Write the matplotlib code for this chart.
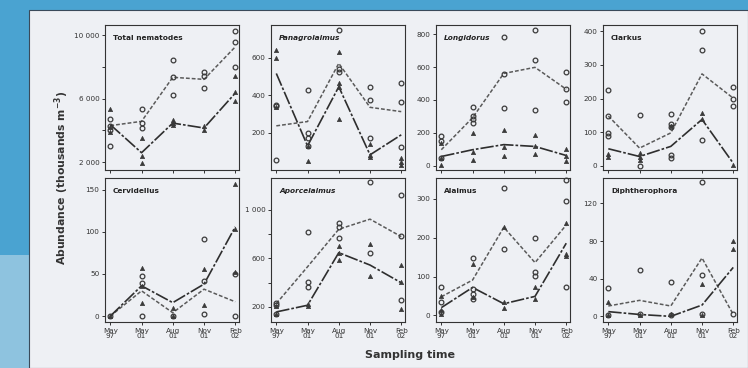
import matplotlib
matplotlib.use("Agg")
import matplotlib.pyplot as plt
from matplotlib.patches import Rectangle
from matplotlib.ticker import FixedLocator, FuncFormatter

plt.rcParams['font.family'] = ['DejaVu Sans']

# ---------------- data ----------------
times = ["May\n97", "May\n01", "Aug\n01", "Nov\n01", "Feb\n02"]

titles = ["Total nematodes", "Panagrolaimus", "Longidorus", "Clarkus",
          "Cervidellus", "Aporcelaimus", "Alaimus", "Diphtherophora"]
italic_titles = ["Panagrolaimus", "Longidorus", "Aporcelaimus"]

# open circles (per sampling time)
total_circ = [[4700, 4300, 4000, 3000], [5350, 4450, 4150], [8450, 7350, 6250], [7700, 7430, 6650], [10300, 9580, 8000]]
total_tri = [[5350, 4200, 3900], [3500, 2380, 1920], [4670, 4460, 4360], [4250, 4050], [7430, 6400, 5880]]
total_line_c = [4300, 4570, 7350, 7220, 9270]
total_line_t = [4360, 2590, 4460, 4150, 6350]

pana_circ = [[350, 340, 55], [430, 200, 170, 130], [750, 540, 525], [445, 375, 170], [465, 365, 125]]
pana_tri = [[640, 600, 335], [130, 50], [630, 465, 445, 275], [140, 80, 72], [63, 45, 28]]
pana_line_c = [236, 259, 570, 335, 312]
pana_line_t = [516, 129, 445, 81, 188]

long_circ = [[180, 150, 50], [355, 300, 282, 262], [780, 560, 350], [822, 640, 337], [570, 465, 385]]
long_tri = [[140, 45, 5], [200, 84, 37], [220, 114, 61], [190, 118, 73], [102, 57, 27]]
long_line_c = [98, 292, 561, 598, 465]
long_line_t = [57, 98, 129, 118, 63]

clar_circ = [[225, 148, 98, 88], [151, 1], [153, 123, 115, 33, 23], [401, 345, 78], [235, 200, 178]]
clar_tri = [[35, 28], [38, 28, 18], [118], [158, 138], [3]]
clar_line_c = [148, 53, 98, 273, 201]
clar_line_t = [51, 28, 58, 138, 8]

cerv_circ = [[0], [48, 39, 0], [0], [92, 42, 2], [50, 0]]
cerv_tri = [[0], [57, 36, 16], [10, 0], [56, 13], [157, 104, 52]]
cerv_line_c = [0, 30, 4, 32, 17]
cerv_line_t = [0, 36, 16, 38, 106]

apor_circ = [[233, 214, 139], [821, 407, 366], [890, 857, 766], [1226, 647], [1124, 788, 255]]
apor_tri = [[206, 145], [228, 206], [702, 647, 586], [719, 454], [545, 407, 186]]
apor_line_c = [228, 531, 840, 923, 779]
apor_line_t = [159, 214, 647, 545, 399]

alai_circ = [[72, 35, 9], [147, 69, 56, 43], [327, 171], [199, 112, 101], [348, 294, 73]]
alai_tri = [[49, 15, 3], [132, 48], [227, 35, 20], [72, 43], [239, 158, 153]]
alai_line_c = [48, 91, 227, 136, 233]
alai_line_t = [20, 72, 30, 49, 186]

diph_circ = [[30, 1], [49, 2], [36, 1], [143, 44, 2], [2]]
diph_tri = [[15, 1], [1], [2], [34, 1], [80, 72]]
diph_line_c = [11, 17, 11, 62, 2]
diph_line_t = [5, 2, 0, 12, 52]

circles = [total_circ, pana_circ, long_circ, clar_circ, cerv_circ, apor_circ, alai_circ, diph_circ]
triangles = [total_tri, pana_tri, long_tri, clar_tri, cerv_tri, apor_tri, alai_tri, diph_tri]
lines_c = [total_line_c, pana_line_c, long_line_c, clar_line_c, cerv_line_c, apor_line_c, alai_line_c, diph_line_c]
lines_t = [total_line_t, pana_line_t, long_line_t, clar_line_t, cerv_line_t, apor_line_t, alai_line_t, diph_line_t]

ylims = [(1500, 10650), (0, 775), (-25, 855), (-12, 418),
         (-7, 164), (76, 1262), (-17, 354), (-6, 147)]
major_ticks = [[2000, 6000, 10000], [200, 400, 600], [0, 200, 400, 600, 800], [0, 100, 200, 300, 400],
               [0, 50, 100, 150], [200, 600, 1000], [0, 100, 200, 300], [0, 40, 80, 120]]
minor_ticks = [[4000, 8000], [], [], [], [], [400, 800], [], []]

# ---------------- figure ----------------
W, H = 748, 368
fig = plt.figure(figsize=(W / 100, H / 100), dpi=100)
fig.patch.set_facecolor('#4aa3d1')
bg = '#eef0f4'
fig.patches.append(Rectangle((0, 0), 29 / W, 1 - 255 / H, transform=fig.transFigure,
                             facecolor='#8ec3df', edgecolor='none', zorder=-11))
fig.patches.append(Rectangle((29 / W, 0), 1 - 29 / W, 1 - 10 / H, transform=fig.transFigure,
                             facecolor=bg, edgecolor='#3a4a5a', lw=0.8, zorder=-10))

lefts = [105, 271, 436, 603]
pw = 134
rows = [(25, 170), (178, 322)]

ink = '#3a3a3a'
def fmt(v, pos):
    v = int(round(v))
    if abs(v) >= 1000:
        return f"{v // 1000} {v % 1000:03d}"
    return str(v)

for i in range(8):
    r, c = divmod(i, 4)
    top, bot = rows[r]
    ax = fig.add_axes([lefts[c] / W, 1 - bot / H, pw / W, (bot - top) / H])
    ax.set_facecolor(bg)
    xs = range(len(times))
    for x, vals in zip(xs, circles[i]):
        ax.plot([x] * len(vals), vals, 'o', ms=3.4, mfc='none', mec=ink, mew=0.9,
                linestyle='none', zorder=3, clip_on=False)
    for x, vals in zip(xs, triangles[i]):
        ax.plot([x] * len(vals), vals, '^', ms=3.1, mfc=ink, mec=ink, mew=0.5,
                linestyle='none', zorder=3, clip_on=False)
    ax.plot(list(xs), lines_c[i], color='#5a5a5a', lw=1.1, linestyle=(0, (2.5, 1.3)), zorder=2)
    ax.plot(list(xs), lines_t[i], color='#2e2e2e', lw=1.2, linestyle=(0, (8, 1.2, 1.6, 1.2)), zorder=2)

    ax.set_xlim(-0.17, 4.12)
    ax.set_ylim(*ylims[i])
    ax.set_xticks(list(xs))
    if r == 1:
        ax.set_xticklabels(times, fontsize=5.2, color='#333', linespacing=0.85)
    else:
        ax.set_xticklabels([])
    ax.yaxis.set_major_locator(FixedLocator(major_ticks[i]))
    ax.yaxis.set_major_formatter(FuncFormatter(fmt))
    if minor_ticks[i]:
        ax.yaxis.set_minor_locator(FixedLocator(minor_ticks[i]))
    ax.tick_params(axis='both', which='both', direction='out', length=2.5, width=0.7,
                   color='#333', labelsize=5.2, labelcolor='#333', pad=1.5)
    for s in ax.spines.values():
        s.set_color('#333')
        s.set_linewidth(0.8)
    style = 'italic' if titles[i] in italic_titles else 'normal'
    ax.text(0.06, 0.93, titles[i], transform=ax.transAxes, fontsize=5.3, fontweight='bold',
            fontstyle=style, color='#222', va='top', ha='left')

fig.text(62 / W, 1 - 178 / H, "Abundance (thousands m$^{\\mathbf{-3}}$)", rotation=90, fontsize=7.8,
         fontweight='bold', color='#333', ha='center', va='center')
fig.text(410 / W, 1 - 355 / H, "Sampling time", fontsize=8, fontweight='bold', color='#333',
         ha='center', va='center')

fig.savefig('out.png', dpi=100, facecolor=fig.get_facecolor())
